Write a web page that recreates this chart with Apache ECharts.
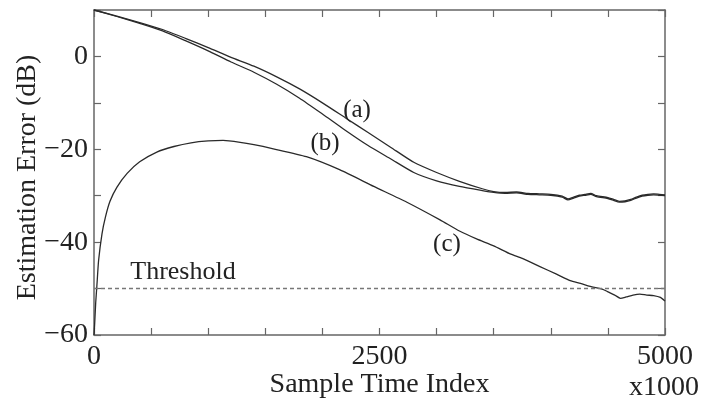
<!DOCTYPE html>
<html>
<head>
<meta charset="utf-8">
<script src="https://cdn.jsdelivr.net/npm/echarts@6/dist/echarts.min.js"></script>
<style>
html,body{margin:0;padding:0;background:#fff;}
#chart{width:702px;height:401px;}
</style>
</head>
<body>
<div id="chart"></div>
<script>
// Curves (a) and (b): shared sample indices (x1000)
var xAB = [0, 200, 400, 600, 800, 1000, 1200, 1400, 1600, 1800, 2000, 2200, 2400, 2600, 2800, 3000, 3200, 3400,
  3500, 3600, 3700, 3800, 3900, 4000, 4100, 4150, 4200, 4250, 4300, 4350, 4400, 4500, 4550, 4600, 4650, 4700, 4750, 4800, 4850, 4900, 4950, 5000];
var yA = [10, 8.7, 7.3, 5.8, 3.9, 1.9, -0.2, -2.1, -4.4, -7.0, -10.0, -13.2, -16.4, -19.6, -22.8, -25.0, -26.9, -28.5,
  -29.1, -29.3, -29.2, -29.5, -29.6, -29.7, -30.1, -30.7, -30.3, -29.9, -29.7, -29.5, -30.0, -30.4, -30.8, -31.2, -31.1, -30.8, -30.3, -29.9, -29.7, -29.6, -29.7, -29.8];
var yB = [10, 8.6, 7.1, 5.5, 3.4, 1.2, -1.2, -3.4, -6.0, -9.0, -12.4, -15.9, -19.2, -22.1, -25.0, -26.8, -28.0, -28.9,
  -29.3, -29.5, -29.4, -29.7, -29.8, -29.9, -30.3, -30.9, -30.5, -30.1, -29.9, -29.7, -30.2, -30.6, -31.0, -31.4, -31.3, -31.0, -30.5, -30.1, -29.9, -29.8, -29.9, -30.0];

// Curve (c)
var xC = [0, 5, 15, 25, 40, 70, 100, 140, 200, 290, 400, 550, 700, 850, 1000, 1130, 1280, 1400, 1570, 1860, 2150, 2450, 2740, 3030, 3200, 3350, 3500, 3650, 3750, 3900, 4050, 4170, 4260, 4370, 4450, 4500, 4560, 4610, 4660, 4720, 4780, 4840, 4900, 4960, 5000];
var yC = [-60, -58, -53, -49.5, -44, -38.2, -34.6, -31.2, -28.2, -25.2, -22.7, -20.6, -19.4, -18.6, -18.2, -18.1, -18.5, -19.0, -19.9, -21.6, -24.4, -28.0, -31.4, -35.2, -37.6, -39.3, -40.8, -42.6, -43.5, -45.2, -46.9, -48.3, -48.9, -49.7, -50.1, -50.7, -51.4, -52.1, -51.8, -51.4, -51.2, -51.4, -51.5, -51.9, -52.7];

var threshold = -50;

// Annotation labels
var noteText = ['(a)', '(b)', '(c)', 'Threshold'];
var noteX = [2303, 2023, 3091, 779];
var noteY = [-11.6, -18.7, -40.6, -46.5];
var noteSize = [25, 25, 25, 26];

var xLabelsShown = [0, 2500, 5000];
var yLabelsShown = [0, -20, -40, -60];

function pairs(xs, ys){ return xs.map(function(x,i){ return [x, ys[i]]; }); }

var FONT = '"Liberation Serif", "Times New Roman", serif';
var FRAME = '#666';
var INK = '#222';

var chart = echarts.init(document.getElementById('chart'), null, {renderer:'canvas'});

var axisCommonX = {
  type: 'value', min: 0, max: 5000, interval: 500,
  axisLine: {show: true, onZero: false, lineStyle: {color: FRAME, width: 1.5}},
  axisTick: {show: true, inside: true, length: 7, lineStyle: {color: FRAME, width: 1.2}},
  splitLine: {show: false}
};
var axisCommonY = {
  type: 'value', min: -60, max: 10, interval: 10,
  axisLine: {show: true, onZero: false, lineStyle: {color: FRAME, width: 1.5}},
  axisTick: {show: true, inside: true, length: 7, lineStyle: {color: FRAME, width: 1.2}},
  splitLine: {show: false}
};

var notes = noteText.map(function(t, i){
  return {
    coord: [noteX[i], noteY[i]],
    symbol: 'circle', symbolSize: 1,
    itemStyle: {color: 'rgba(0,0,0,0)'},
    label: {show: true, position: 'inside', formatter: t, color: INK, fontFamily: FONT, fontSize: noteSize[i]}
  };
});

var lineCommon = {
  type: 'line', showSymbol: false, symbol: 'none',
  smooth: 0.2,
  lineStyle: {color: '#2a2a2a', width: 1.3}, z: 3
};

var option = {
  animation: false,
  backgroundColor: '#fff',
  grid: {left: 94, right: 37, top: 10, bottom: 66, containLabel: false, outerBoundsMode: 'none'},
  xAxis: [
    Object.assign({}, axisCommonX, {
      position: 'bottom',
      name: 'Sample Time Index', nameLocation: 'middle', nameGap: 36, nameMoveOverlap: false,
      nameTextStyle: {fontFamily: FONT, fontSize: 28, color: INK},
      axisLabel: {show: true, margin: 8, fontFamily: FONT, fontSize: 28, color: INK,
        showMinLabel: true, showMaxLabel: true,
        formatter: function(v){ return xLabelsShown.indexOf(v) >= 0 ? String(v) : ''; }}
    }),
    Object.assign({}, axisCommonX, {position: 'top', axisLabel: {show: false}})
  ],
  yAxis: [
    Object.assign({}, axisCommonY, {
      position: 'left',
      name: 'Estimation Error (dB)', nameLocation: 'middle', nameGap: 52, nameMoveOverlap: false,
      nameTextStyle: {fontFamily: FONT, fontSize: 28, color: INK, padding: [0, 10, 0, 0]},
      axisLabel: {show: true, margin: 6, fontFamily: FONT, fontSize: 28, color: INK,
        showMinLabel: true, showMaxLabel: true,
        formatter: function(v){ return yLabelsShown.indexOf(v) >= 0 ? String(v).replace('-', '\u2212') : ''; }}
    }),
    Object.assign({}, axisCommonY, {position: 'right', axisLabel: {show: false}})
  ],
  graphic: [{
    type: 'text', x: 664, y: 388,
    style: {text: 'x1000', font: '28px ' + FONT, fill: INK, align: 'center', verticalAlign: 'middle'}
  }],
  series: [
    Object.assign({}, lineCommon, {name: '(a)', data: pairs(xAB, yA), markPoint: {data: notes, silent: true}}),
    Object.assign({}, lineCommon, {name: '(b)', data: pairs(xAB, yB)}),
    Object.assign({}, lineCommon, {
      name: '(c)', data: pairs(xC, yC),
      markLine: {
        silent: true, symbol: ['none', 'none'],
        label: {show: false},
        lineStyle: {color: '#777', type: [4, 3], width: 1.3},
        data: [{yAxis: threshold}]
      }
    })
  ]
};
chart.setOption(option);
</script>
</body>
</html>
